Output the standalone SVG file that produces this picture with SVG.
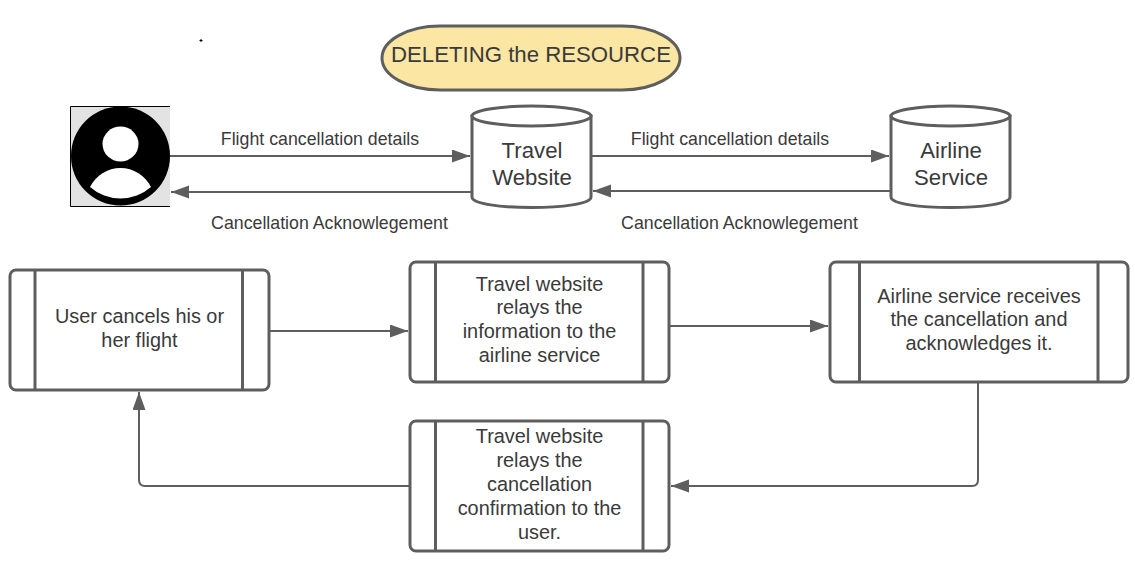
<svg xmlns="http://www.w3.org/2000/svg" width="1135" height="567" viewBox="0 0 1135 567">
<style>
text{font-family:"Liberation Sans",Arial,sans-serif;fill:#3a3a3a;text-anchor:middle}
.t{font-size:19.900px}
.l{font-size:17.750px}
.c{font-size:22.200px}
.y{font-size:22.200px}
.b{fill:#fff;stroke:#5e5e5e;stroke-width:3}
.d{fill:none;stroke:#5e5e5e;stroke-width:3}
.e{fill:none;stroke:#5e5e5e;stroke-width:2}
</style>
<defs>
<marker id="a" markerUnits="userSpaceOnUse" markerWidth="20" markerHeight="14" refX="18" refY="6.500" orient="auto"><path d="M0 0L18 6.500L0 13Z" fill="#5e5e5e"/></marker>
</defs>
<rect width="1135" height="567" fill="#fff"/>
<g id="connectors">
<path class="e" d="M170 156H470" marker-end="url(#a)"/>
<path class="e" d="M472 192H171" marker-end="url(#a)"/>
<path class="e" d="M592 156H889" marker-end="url(#a)"/>
<path class="e" d="M891 191H593" marker-end="url(#a)"/>
<path class="e" d="M269 331H408" marker-end="url(#a)"/>
<path class="e" d="M669 326H828" marker-end="url(#a)"/>
<path class="e" d="M978 382V480Q978 486 972 486H671" marker-end="url(#a)"/>
<path class="e" d="M410 486H145Q139 486 139 480V392" marker-end="url(#a)"/>
</g>
<g id="dot"><path d="M199.500 40.500H202.500M201 39V42" stroke="#000" stroke-width="1"/></g>
<g id="title"><rect x="382" y="26" width="298" height="64" rx="58" ry="32" fill="#fce6a4" stroke="#5e5e5e" stroke-width="3"/><text class="c" x="531" y="62">DELETING the RESOURCE</text></g>
<g id="user">
<rect x="70" y="106" width="100" height="101" fill="#e3e3e3"/>
<path d="M170 106.500H70.500V206.500H170" fill="none" stroke="#000" stroke-width="1"/>
<circle cx="120.500" cy="156" r="49.500" fill="#000"/>
<ellipse cx="120.500" cy="144" rx="18" ry="17.500" fill="#fff"/>
<path d="M90 187A34 34 0 0 1 151 187A46 46 0 0 1 90 187Z" fill="#fff"/>
</g>
<g id="travel-website">
<path class="b" d="M472 116V197C472 211 591 211 591 197V116Z"/>
<ellipse class="b" cx="531.500" cy="116" rx="59.500" ry="10"/>
<text class="y" x="532" y="158">Travel</text><text class="y" x="532" y="185">Website</text>
</g>
<g id="airline-service">
<path class="b" d="M891 116V197C891 211 1010 211 1010 197V116Z"/>
<ellipse class="b" cx="950.500" cy="116" rx="59.500" ry="10"/>
<text class="y" x="951" y="158">Airline</text><text class="y" x="951" y="185">Service</text>
</g>
<g id="labels">
<text class="l" x="320" y="144.500">Flight cancellation details</text>
<text class="l" x="329.500" y="229">Cancellation Acknowlegement</text>
<text class="l" x="730" y="144.500">Flight cancellation details</text>
<text class="l" x="739.500" y="229">Cancellation Acknowlegement</text>
</g>
<g id="step-1">
<rect class="b" x="10" y="270" width="259" height="120" rx="6"/><path class="d" d="M35 270V390M242.500 270V390"/>
<text class="t" x="139.500" y="322.700">User cancels his or</text><text class="t" x="139.500" y="346.700">her flight</text>
</g>
<g id="step-2">
<rect class="b" x="410" y="262" width="259" height="120" rx="6"/><path class="d" d="M435.500 262V382M643 262V382"/>
<text class="t" x="539.500" y="290.700">Travel website</text><text class="t" x="539.500" y="313.700">relays the</text><text class="t" x="539.500" y="337.700">information to the</text><text class="t" x="539.500" y="361.700">airline service</text>
</g>
<g id="step-3">
<rect class="b" x="830" y="262" width="298" height="120" rx="6"/><path class="d" d="M859.500 262V382M1098 262V382"/>
<text class="t" x="979" y="302.700">Airline service receives</text><text class="t" x="979" y="325.700">the cancellation and</text><text class="t" x="979" y="349.700">acknowledges it.</text>
</g>
<g id="step-4">
<rect class="b" x="410" y="421" width="259" height="130" rx="6"/><path class="d" d="M435.500 421V551M643 421V551"/>
<text class="t" x="539.500" y="442.700">Travel website</text><text class="t" x="539.500" y="466.700">relays the</text><text class="t" x="539.500" y="490.700">cancellation</text><text class="t" x="539.500" y="514.700">confirmation to the</text><text class="t" x="539.500" y="538.700">user.</text>
</g>
</svg>
